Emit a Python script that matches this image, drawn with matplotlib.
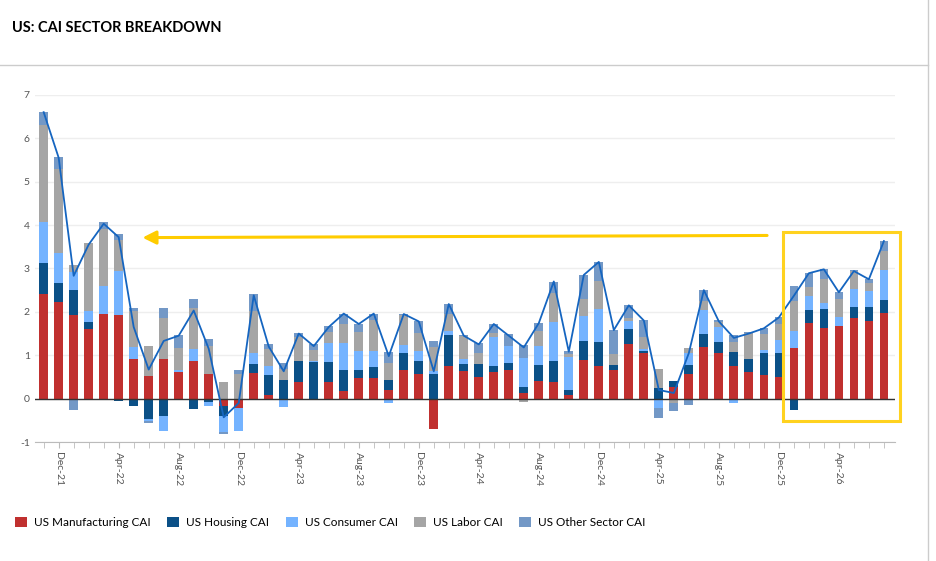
import matplotlib
matplotlib.use("Agg")
import matplotlib.pyplot as plt
import numpy as np
import pandas as pd
from matplotlib.patches import Rectangle

plt.rcParams['font.family'] = ['Lato', 'DejaVu Sans']
plt.rcParams['axes.unicode_minus'] = False

months = pd.date_range("2021-11-01", "2026-07-01", freq="MS")
labels = [d.strftime("%b-%y") for d in months]

manufacturing = [2.41,2.22,1.92,1.60,1.95,1.92,0.91,0.52,0.91,0.62,0.87,0.57,-0.18,-0.22,0.59,0.08,0.0,0.38,-0.03,
                 0.38,0.17,0.47,0.47,0.19,0.65,0.56,-0.71,0.75,0.63,0.49,0.61,0.65,0.12,0.40,0.38,0.08,0.88,0.75,0.65,
                 1.25,1.05,0.0,0.26,0.56,1.19,1.05,0.75,0.61,0.54,0.49,1.16,1.74,1.62,1.67,1.85,1.78,1.97]
housing = [0.71,0.44,0.59,0.16,0.0,-0.05,-0.17,-0.46,-0.40,-0.03,-0.24,-0.08,-0.22,0.0,0.20,0.46,0.42,0.49,0.85,
           0.47,0.48,0.18,0.25,0.23,0.40,0.30,0.56,0.71,0.16,0.30,0.14,0.17,0.16,0.37,0.48,0.11,0.44,0.55,0.12,
           0.35,0.04,0.24,0.14,0.21,0.29,0.25,0.32,0.30,0.51,0.56,-0.27,0.30,0.44,0.0,0.26,0.33,0.30]
consumer = [0.94,0.70,0.41,0.27,0.64,1.02,0.28,-0.06,-0.35,0.03,0.28,-0.10,-0.37,-0.52,0.27,0.21,-0.19,0.0,0.02,
            0.43,0.63,0.44,0.37,-0.10,0.19,0.23,0.08,0.10,0.12,-0.03,0.67,0.39,0.65,0.44,0.90,0.76,0.58,0.76,0.0,
            0.18,0.05,-0.22,-0.02,0.28,0.56,0.35,-0.10,-0.01,0.07,0.30,0.39,0.32,0.14,0.21,0.41,0.37,0.69]
labor = [2.25,1.92,0.16,1.55,1.32,0.71,0.83,0.70,0.95,0.51,0.94,0.65,0.38,0.56,0.95,0.40,0.27,0.55,0.25,
         0.25,0.44,0.44,0.72,0.40,0.68,0.42,0.55,0.39,0.53,0.26,0.09,0.0,-0.08,0.34,0.67,0.07,0.39,0.65,0.25,
         0.07,0.28,0.44,-0.08,0.11,0.21,0.11,0.23,0.60,0.36,0.37,0.70,0.21,0.55,0.41,0.42,0.18,0.44]
other = [0.29,0.29,-0.25,0.0,0.15,0.14,0.06,-0.04,0.22,0.30,0.20,0.15,-0.05,0.10,0.40,0.10,0.14,0.09,0.13,
         0.14,0.24,0.19,0.15,0.25,0.03,0.27,0.13,0.23,0.02,0.23,0.21,0.27,0.30,0.19,0.25,0.07,0.56,0.44,0.56,
         0.30,0.39,-0.23,-0.18,-0.15,0.25,0.05,0.17,0.02,0.14,0.16,0.34,0.32,0.23,0.16,0.03,0.09,0.23]
total = [6.60,5.55,2.83,3.55,4.03,3.72,1.65,0.67,1.33,1.45,2.03,1.15,-0.43,-0.10,2.38,1.20,0.63,1.50,1.21,
         1.65,1.96,1.72,1.96,0.98,1.95,1.78,0.63,2.18,1.45,1.25,1.72,1.45,1.18,1.74,2.70,1.08,2.85,3.15,1.58,
         2.15,1.80,0.20,0.13,1.05,2.50,1.78,1.40,1.50,1.62,1.87,2.37,2.89,2.98,2.45,2.94,2.75,3.63]

series = [("US Manufacturing CAI", manufacturing, "#C0302F"),
          ("US Housing CAI", housing, "#0B5087"),
          ("US Consumer CAI", consumer, "#74B3FF"),
          ("US Labor CAI", labor, "#A5A5A5"),
          ("US Other Sector CAI", other, "#7398C6")]

fig = plt.figure(figsize=(9.37, 5.61), dpi=100)
ax = fig.add_axes([0.037, 0.212, 0.918, 0.619])
x = np.arange(len(labels))
pos = np.zeros(len(x)); neg = np.zeros(len(x))
for name, vals, col in series:
    v = np.array(vals)
    bottom = np.where(v >= 0, pos, neg)
    ax.bar(x, v, 0.58, bottom=bottom, color=col, label=name, zorder=2)
    pos += np.where(v >= 0, v, 0); neg += np.where(v < 0, v, 0)
ax.plot(x, total, color="#1565C0", lw=1.3, zorder=3)
ax.axhline(0, color="#333333", lw=1, zorder=2.5)

ax.set_xlim(-0.6, 56.73)
ax.set_ylim(-1, 7)
ax.set_yticks(range(-1, 8))
ax.tick_params(axis="y", length=0, labelsize=7.5, colors="#555555")
ax.grid(axis="y", color="#EEEEEE", lw=1, zorder=0)
ticks = list(range(1, len(x), 4))
ax.set_xticks(x, minor=True)
ax.set_xticks(ticks, [labels[i] for i in ticks])
ax.tick_params(axis="x", which="both", length=4, color="#BBBBBB", labelsize=7.5,
               labelcolor="#555555", labelrotation=270)
for s in ["top", "right", "left"]:
    ax.spines[s].set_visible(False)
ax.spines["bottom"].set_position(("data", -1))
ax.spines["bottom"].set_color("#BBBBBB")

ax.add_patch(Rectangle((49.27, -0.51), 7.8, 4.36, fill=False, ec="#FFD21F", lw=2.2, clip_on=False, zorder=4))
ax.annotate("", xy=(6.4, 3.71), xytext=(48.4, 3.76),
            arrowprops=dict(arrowstyle="-|>,head_length=0.8,head_width=0.4", color="#FFCC00", lw=2.2), zorder=4)

fig.text(0.013, 0.95, "US: CAI SECTOR BREAKDOWN", fontsize=10.5, fontweight="bold", va="center")
fig.add_artist(plt.Line2D([0, 0.99], [0.885, 0.885], color="#CCCCCC", lw=1))
fig.add_artist(plt.Line2D([0.99, 0.99], [0, 1], color="#CCCCCC", lw=1))
fig.legend(loc="lower left", bbox_to_anchor=(0.005, 0.04), ncol=5, frameon=False, fontsize=8.5,
           handlelength=1.0, handleheight=1.0, columnspacing=1.4, handletextpad=0.6)
fig.savefig("out.png", dpi=100, facecolor="white")
